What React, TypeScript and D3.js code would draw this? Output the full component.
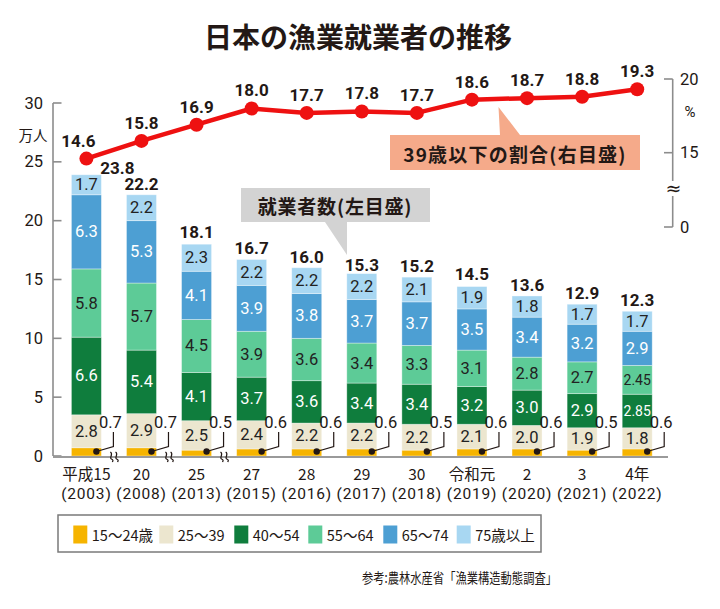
import React from "react";
import * as d3 from "d3";

const eraLabels = ["平成15", "20", "25", "27", "28", "29", "30", "令和元", "2", "3", "4年"];
const yearLabels = ["2003", "2008", "2013", "2015", "2016", "2017", "2018", "2019", "2020", "2021", "2022"];
const age15_24 = [0.7, 0.7, 0.5, 0.6, 0.6, 0.6, 0.5, 0.6, 0.6, 0.5, 0.6];
const age25_39 = [2.8, 2.9, 2.5, 2.4, 2.2, 2.2, 2.2, 2.1, 2.0, 1.9, 1.8];
const age40_54 = [6.6, 5.4, 4.1, 3.7, 3.6, 3.4, 3.4, 3.2, 3.0, 2.9, 2.85];
const age55_64 = [5.8, 5.7, 4.5, 3.9, 3.6, 3.4, 3.3, 3.1, 2.8, 2.7, 2.45];
const age65_74 = [6.3, 5.3, 4.1, 3.9, 3.8, 3.7, 3.7, 3.5, 3.4, 3.2, 2.9];
const age75plus = [1.7, 2.2, 2.3, 2.2, 2.2, 2.2, 2.1, 1.9, 1.8, 1.7, 1.7];
const totals = [23.8, 22.2, 18.1, 16.7, 16.0, 15.3, 15.2, 14.5, 13.6, 12.9, 12.3];
const share39 = [14.6, 15.8, 16.9, 18.0, 17.7, 17.8, 17.7, 18.6, 18.7, 18.8, 19.3];
const seriesNames = ["15～24歳", "25～39", "40～54", "55～64", "65～74", "75歳以上"];
const seriesColors = ["#f6b400", "#ece6cf", "#0f7d3d", "#5dcb97", "#4d9fd3", "#a8d7f2"];
const seriesTextColors = ["#222", "#222", "#fff", "#222", "#fff", "#222"];
const leftTicks = [0, 5, 10, 15, 20, 25, 30];
const rightTicks = [15, 20];

const JP = "'Noto Sans CJK JP', sans-serif";
const NUM = "Roboto, 'Noto Sans CJK JP', sans-serif";
const INK = "#231815";

const fmt = (v: number) => (Math.round(v * 100) % 10 !== 0 ? v.toFixed(2) : v.toFixed(1));

export default function App() {
  const seriesArrays = [age15_24, age25_39, age40_54, age55_64, age65_74, age75plus];
  const keys = seriesNames;
  const rows = eraLabels.map((c, i) => {
    const r: any = { idx: i };
    keys.forEach((k, j) => (r[k] = seriesArrays[j][i]));
    return r;
  });
  const stacked = d3.stack<any>().keys(keys)(rows);

  const x = d3.scalePoint<number>().domain(d3.range(eraLabels.length)).range([86.4, 637.2]);
  const barW = 30;
  const y = d3.scaleLinear().domain([0, 30]).range([456, 103]);
  const yR = d3.scaleLinear().domain([15, 20]).range([152.7, 79]);
  const yR0 = 227;

  const line = d3
    .line<number>()
    .x((_, i) => x(i)!)
    .y((d) => yR(d));

  const squiggle = (cx: number, cy: number) => {
    const p = d3.path();
    [-2.6, 2.6].forEach((dx) => {
      p.moveTo(cx + dx - 1, cy - 5);
      p.bezierCurveTo(cx + dx + 2.5, cy - 3, cx + dx - 2.5, cy + 1, cx + dx, cy + 2);
      p.bezierCurveTo(cx + dx + 2.5, cy + 3, cx + dx + 1.5, cy + 4, cx + dx + 1, cy + 5);
    });
    return p.toString();
  };

  return (
    <svg width={720} height={609} style={{ position: "absolute", left: 0, top: 0, background: "#fff" }}>
      {/* Title */}
      <text x={358} y={36} textAnchor="middle" dominantBaseline="central" fontFamily={JP} fontWeight={700} fontSize={28} fill={INK}>
        日本の漁業就業者の推移
      </text>

      {/* Left axis */}
      <line x1={53} x2={53} y1={y(30)} y2={y(0)} stroke="#8c8c8c" strokeWidth={1.6} />
      {leftTicks.map((t) => (
        <g key={t}>
          <line x1={53} x2={61.5} y1={y(t)} y2={y(t)} stroke="#8c8c8c" strokeWidth={1.6} />
          <text x={43} y={y(t)} textAnchor="end" dominantBaseline="central" fontFamily={NUM} fontSize={16.5} fill={INK}>
            {t}
          </text>
        </g>
      ))}
      <text x={33} y={134} textAnchor="middle" dominantBaseline="central" fontFamily={JP} fontSize={14.5} fill={INK}>
        万人
      </text>

      {/* Right axis */}
      <line x1={672.7} x2={672.7} y1={yR(20)} y2={yR0} stroke="#8c8c8c" strokeWidth={1.6} />
      {rightTicks.map((t) => (
        <g key={t}>
          <line x1={664} x2={672.7} y1={yR(t)} y2={yR(t)} stroke="#8c8c8c" strokeWidth={1.6} />
          <text x={680} y={yR(t)} dominantBaseline="central" fontFamily={NUM} fontSize={16.5} fill={INK}>
            {t}
          </text>
        </g>
      ))}
      <line x1={664} x2={672.7} y1={yR0} y2={yR0} stroke="#8c8c8c" strokeWidth={1.6} />
      <text x={680} y={yR0} dominantBaseline="central" fontFamily={NUM} fontSize={16.5} fill={INK}>
        0
      </text>
      <text x={690} y={112} textAnchor="middle" dominantBaseline="central" fontFamily={NUM} fontSize={15} fill={INK}>
        %
      </text>
      <rect x={665} y={181} width={16} height={15} fill="#fff" />
      <text x={673.5} y={188} textAnchor="middle" dominantBaseline="central" fontFamily={"DejaVu Sans"} fontSize={19} fill={INK}>
        ≈
      </text>

      {/* Bars */}
      {stacked.map((s, si) => (
        <g key={s.key}>
          {s.map((d, i) => (
            <rect
              key={i}
              x={x(i)! - barW / 2}
              y={y(d[1])}
              width={barW}
              height={y(d[0]) - y(d[1])}
              fill={seriesColors[si]}
              stroke="#ffffff"
              strokeOpacity={0.45}
              strokeWidth={0.8}
            />
          ))}
        </g>
      ))}

      {/* Segment labels */}
      {stacked.map((s, si) =>
        si === 0
          ? null
          : s.map((d, i) => {
              const v = seriesArrays[si][i];
              const small = fmt(v).length > 3;
              return (
                <text
                  key={`${si}-${i}`}
                  x={x(i)!}
                  y={(y(d[0]) + y(d[1])) / 2}
                  textAnchor="middle"
                  dominantBaseline="central"
                  fontFamily={NUM}
                  fontSize={small ? 14 : 16.5}
                  fill={seriesTextColors[si]}
                >
                  {fmt(v)}
                </text>
              );
            })
      )}

      {/* X axis */}
      <line x1={53} x2={668} y1={y(0) + 1} y2={y(0) + 1} stroke="#9a9a9a" strokeWidth={1.8} />

      {/* 15-24 leader labels */}
      {age15_24.map((v, i) => {
        const cx = x(i)!;
        return (
          <g key={i}>
            <polyline
              points={`${cx + 10},${451.5} ${cx + 27},${446.5} ${cx + 27},${432}`}
              fill="none"
              stroke={INK}
              strokeWidth={1.2}
            />
            <circle cx={cx + 10} cy={451.5} r={3.2} fill={INK} />
            <text x={cx + 24} y={422.5} textAnchor="middle" dominantBaseline="central" fontFamily={NUM} fontSize={16.5} fill={INK}>
              {fmt(v)}
            </text>
          </g>
        );
      })}

      {/* Axis break squiggles */}
      {[0, 1, 2].map((i) => (
        <path key={i} d={squiggle((x(i)! + x(i + 1)!) / 2, 457)} fill="none" stroke={INK} strokeWidth={1.2} />
      ))}

      {/* Totals */}
      {totals.map((t, i) => (
        <text
          key={i}
          x={x(i)! + (i === 0 ? 31 : 0)}
          y={y(t) - (i === 0 ? 2 : 5)}
          textAnchor="middle"
          fontFamily={NUM}
          fontWeight={700}
          fontSize={17}
          fill={INK}
        >
          {t.toFixed(1)}
        </text>
      ))}

      {/* Callout: employees */}
      <path d="M241,188 H430 V222 H347 L347,255 L325,222 H241 Z" fill="#d3d3d3" />
      <text x={335} y={205} textAnchor="middle" dominantBaseline="central" fontFamily={JP} fontWeight={700} fontSize={19} letterSpacing={0.8} fill={INK}>
        就業者数(左目盛)
      </text>

      {/* Callout: share */}
      <path d="M390,135 H500 L498.5,107 L520,135 H640 V170 H390 Z" fill="#f5aa8a" />
      <text x={515} y={153} textAnchor="middle" dominantBaseline="central" fontFamily={JP} fontWeight={700} fontSize={19} letterSpacing={1.2} fill={INK}>
        39歳以下の割合(右目盛)
      </text>

      {/* Share line */}
      <path d={line(share39)!} fill="none" stroke="#ee1111" strokeWidth={4.5} strokeLinejoin="round" />
      {share39.map((v, i) => (
        <g key={i}>
          <circle cx={x(i)!} cy={yR(v)} r={7} fill="#ee1111" />
          <text
            x={x(i)! + (i === 0 ? -8 : 0)}
            y={yR(v) - 12}
            textAnchor="middle"
            fontFamily={NUM}
            fontWeight={700}
            fontSize={17}
            fill={INK}
          >
            {v.toFixed(1)}
          </text>
        </g>
      ))}

      {/* X labels */}
      {eraLabels.map((c, i) => (
        <g key={i}>
          <text x={x(i)!} y={473} textAnchor="middle" dominantBaseline="central" fontFamily={JP} fontSize={15.5} fill={INK}>
            {c}
          </text>
          <text x={x(i)!} y={494} textAnchor="middle" dominantBaseline="central" fontFamily={NUM} fontSize={15.5} letterSpacing={0.8} fill={INK}>
            ({yearLabels[i]})
          </text>
        </g>
      ))}

      {/* Legend */}
      <rect x={58} y={515} width={483} height={37} fill="#fff" stroke="#7a7a7a" strokeWidth={1.5} />
      {seriesNames.map((n, i) => {
        const lx = [73.3, 159.3, 234.3, 308.3, 383.3, 456.7][i];
        return (
          <g key={n}>
            <rect x={lx} y={525.5} width={14} height={18} fill={seriesColors[i]} />
            <text x={lx + 18.5} y={534.5} dominantBaseline="central" fontFamily={JP} fontSize={14.5} fill={INK}>
              {n}
            </text>
          </g>
        );
      })}

      {/* Source */}
      <text x={362} y={577} textLength={195} lengthAdjust="spacingAndGlyphs" dominantBaseline="central" fontFamily={JP} fontSize={14} fill={INK}>
        参考:農林水産省「漁業構造動態調査」
      </text>
    </svg>
  );
}
